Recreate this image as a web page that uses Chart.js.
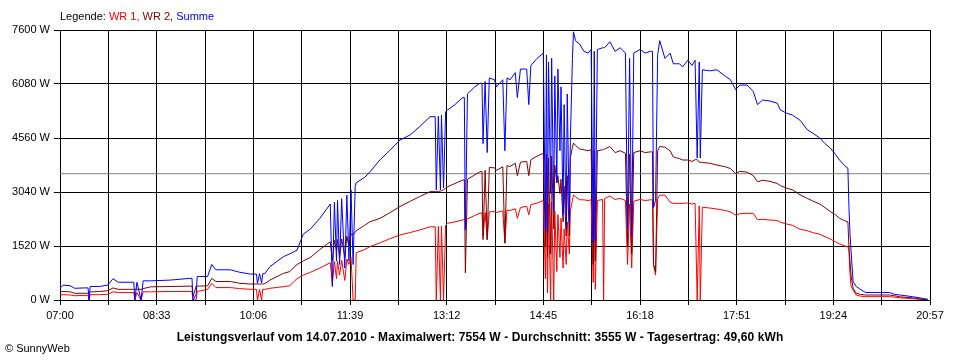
<!DOCTYPE html>
<html><head><meta charset="utf-8">
<script src="https://cdn.jsdelivr.net/npm/chart.js@4"></script>
<style>
html,body{margin:0;padding:0;background:#fff;}
#wrap{position:relative;width:960px;height:360px;overflow:hidden;}
canvas{position:absolute;left:0;top:0;}
.t{position:absolute;font-family:"Liberation Sans",Arial,sans-serif;font-size:11px;line-height:13px;white-space:nowrap;color:#000;}
#caption{left:0;width:960px;text-align:center;font-weight:bold;font-size:12px;top:330px;line-height:14px;letter-spacing:0.1px;}
</style></head><body>
<div id="wrap">
<canvas id="c" width="960" height="360"></canvas>
<div class="t" style="left:60px;top:10px">Legende: <span style="color:#ff0000">WR 1,</span> <span style="color:#800000">WR 2,</span> <span style="color:#0000ff">Summe</span></div>
<div class="t" id="caption">Leistungsverlauf vom 14.07.2010 - Maximalwert: 7554 W - Durchschnitt: 3555 W - Tagesertrag: 49,60 kWh</div>
<div class="t" style="left:5px;top:342px">© SunnyWeb</div>
</div>
<script>
const times = [
"07:00","07:03","07:10","07:14","07:24","07:27","07:28","07:29","07:32","07:38","07:46","07:51","07:56","08:07","08:11","08:12","08:14","08:18","08:20","08:27","08:46","09:05","09:07","09:08","09:11","09:12","09:14","09:22","09:26","09:30","09:44","09:53","10:03","10:09","10:10","10:12","10:14","10:15","10:17","10:22","10:35","10:41","10:48","10:54","11:01","11:10","11:20",
"11:22","11:24","11:26","11:27","11:29","11:31","11:34","11:36","11:38","11:40","11:42","11:44","11:45","11:53","11:58","12:08","12:17","12:27","12:37","12:46",
"12:56","13:01","13:02","13:04","13:06","13:07","13:09","13:11","13:13","13:20","13:27","13:29","13:30","13:32","13:39","13:44","13:46","13:47","13:49","13:51","13:53","13:58","14:00",
"14:06","14:08","14:10","14:13","14:18","14:20","14:23","14:29","14:31","14:33","14:39","14:45","14:47","14:48","14:49","14:50","14:52","14:53","14:55","14:56",
"14:58","14:59","15:01","15:02","15:04","15:05","15:07","15:08","15:10","15:11","15:13","15:14","15:16","15:20","15:24","15:28","15:31","15:33","15:34","15:35",
"15:37","15:42","15:43","15:44","15:49","15:54","15:59","16:04","16:06","16:08","16:10","16:12","16:18","16:23","16:28","16:30","16:31","16:33","16:35","16:37","16:42",
"16:47","16:50","16:53","16:56","16:59","17:04","17:08","17:11","17:13","17:15","17:16","17:18","17:25","17:32","17:40","17:45","17:50","17:54","18:01","18:07",
"18:11","18:16","18:23","18:30","18:33","18:39","18:45","18:52","18:59","19:04","19:11","19:16","19:21","19:26","19:30","19:35","19:38","19:39","19:40","19:41",
"19:43","19:46","19:50","19:55","20:18","20:23","20:28","20:40","20:55"];

const summe = [
330,420,400,330,340,340,0,380,380,380,420,600,500,500,500,0,500,0,540,540,560,610,610,0,150,660,660,660,1000,850,850,780,730,730,470,740,480,740,740,940,1220,1300,1400,1850,2000,2300,2700,
380,2750,1100,2800,1000,2850,900,2950,1100,3100,1000,3200,3300,3450,3600,3950,4200,4500,4650,4880,
5160,5160,3100,5170,3100,5200,3150,5300,5350,5500,5690,5700,1970,5800,6000,6100,6100,4400,6150,4150,6250,6200,6000,
6200,4200,6250,6200,6400,5700,6500,6500,5500,6600,6800,6950,2000,6900,1900,6700,3000,6800,2500,6300,
3300,6500,4200,6000,2400,5500,2000,5800,2200,4500,6800,7550,7300,7200,7000,6950,7050,1600,7000,1700,
7050,7100,7100,7100,7270,7000,7100,6950,2000,6800,1800,6950,7050,6950,7000,7000,2600,2800,6900,7300,6800,
6950,6650,6650,6650,6560,6750,6600,6750,4000,6700,4000,6480,6450,6480,6300,6200,5920,6050,6050,5870,
5500,5630,5600,5540,5350,5260,5200,5060,4790,4700,4560,4400,4280,4100,3940,3780,3710,2630,1880,1400,
520,380,300,210,210,160,140,95,20];

const wr2 = [
230,240,230,190,190,190,190,230,230,240,260,340,300,300,300,300,300,300,320,370,380,390,390,100,390,390,390,400,610,520,520,470,450,450,450,450,450,450,460,560,750,800,1000,1100,1200,1420,1640,
1100,1680,1400,1700,1200,1720,1200,1800,1500,1850,1850,1900,1950,2100,2200,2300,2450,2630,2780,2910,
3050,3050,3050,3060,3060,3080,3100,3150,3190,3280,3370,3380,760,3400,3520,3610,3620,1700,3650,1700,3730,3720,3650,
3750,1600,3780,3760,3850,3500,3880,3900,3500,3950,4050,4130,1500,4100,1200,4000,1300,4050,2000,3800,
3300,3500,3000,3400,2200,3200,1800,3500,1800,4000,4300,4420,4350,4250,4230,4200,4230,1000,4200,1100,
4200,4230,4230,4250,4320,4150,4200,4130,1500,4100,1300,4150,4200,4150,4170,4170,1000,800,4200,4320,4300,
4200,4030,4000,3980,3940,3940,3900,3950,3950,3880,3880,3870,3850,3800,3750,3700,3560,3620,3600,3500,
3330,3370,3340,3280,3220,3150,3100,2960,2860,2790,2700,2600,2490,2400,2300,2230,2200,1500,1100,700,
330,190,160,140,140,120,90,60,0];

const wr1 = [
140,150,140,120,130,130,0,150,150,150,160,230,210,210,210,0,210,0,230,230,240,240,240,0,0,250,250,300,470,350,350,320,300,300,0,300,0,300,300,330,375,400,600,700,780,900,1050,
450,1080,600,1100,700,1120,550,1150,1000,1200,0,0,1330,1420,1500,1610,1720,1830,1900,1970,
2060,2060,0,2070,0,2080,0,2100,2160,2200,2250,2260,2250,2280,2380,2440,2450,1800,2460,1700,2480,2490,2460,
2510,1600,2530,2520,2570,2300,2600,2640,2400,2680,2730,2800,600,2780,200,2700,0,2750,0,2500,
800,2400,1200,2300,900,2000,1000,2200,1300,2500,2800,2960,2900,2820,2820,2800,2820,500,2800,300,
2800,2830,0,2850,2930,2830,2860,2800,1000,2700,900,2780,2830,2800,2820,2820,1000,700,2850,2950,2950,
2750,2720,2720,2720,2720,2730,2700,2720,0,2650,0,2610,2590,2560,2520,2480,2390,2430,2440,2440,
2260,2270,2250,2240,2190,2140,2100,1990,1950,1900,1850,1780,1720,1640,1580,1520,1500,1400,750,400,
280,140,110,94,94,80,60,40,0];

const average = 3555;
const tickLabels = ["07:00","08:33","10:06","11:39","13:12","14:45","16:18","17:51","19:24","20:57"];
const yTicks = [0,1520,3040,4560,6080,7600];

if (times.length !== summe.length || times.length !== wr1.length || times.length !== wr2.length) {
  console.error('length mismatch', times.length, summe.length, wr2.length, wr1.length);
}

function toMin(t){ const p = t.split(':').map(Number); return (p[0]-7)*60 + p[1]; }
const xs = times.map(toMin);
const xMax = toMin(tickLabels[tickLabels.length-1]);
const half = (toMin(tickLabels[1]) - toMin(tickLabels[0])) / 2;
const gridVals = [];
for (let i = 0; i <= (tickLabels.length-1)*2; i++) gridVals.push(i*half);

const pts = arr => arr.map((v,i) => ({x: xs[i], y: v}));
const FONT = '"Liberation Sans", Arial, sans-serif';
Chart.defaults.font.family = FONT;
Chart.defaults.font.size = 11;
Chart.defaults.color = '#000';

new Chart(document.getElementById('c'), {
  type: 'line',
  data: { datasets: [
    {label:'Summe', data: pts(summe), borderColor:'#0000ff'},
    {label:'WR 2', data: pts(wr2), borderColor:'#800000'},
    {label:'WR 1', data: pts(wr1), borderColor:'#ff0000'},
    {label:'Durchschnitt', data:[{x:0,y:average},{x:xMax,y:average}], borderColor:'#808080'}
  ]},
  options: {
    responsive:false, animation:false, events:[],
    layout:{padding:{left:0,right:30,top:30,bottom:0}},
    plugins:{legend:{display:false}, tooltip:{enabled:false}, title:{display:false}},
    elements:{point:{radius:0}, line:{borderWidth:1, tension:0, fill:false}},
    scales:{
      x:{type:'linear', min:0, max:xMax,
        afterBuildTicks: ax => { ax.ticks = gridVals.map(v => ({value:v})); },
        afterFit: ax => { ax.height = 60; },
        grid:{color:'#000', lineWidth:1, tickLength:5, drawTicks:true},
        border:{color:'#000', width:1},
        ticks:{color:'#000', padding:4, maxRotation:0, minRotation:0, autoSkip:false,
          callback:(v,i) => (i % 2 === 0 ? tickLabels[i/2] : '')}
      },
      y:{type:'linear', min:0, max:yTicks[yTicks.length-1],
        afterBuildTicks: ax => { ax.ticks = yTicks.map(v => ({value:v})); },
        afterFit: ax => { ax.width = 60; },
        grid:{color:'#000', lineWidth:1, tickLength:6, drawTicks:true},
        border:{color:'#000', width:1},
        ticks:{color:'#000', padding:4, callback: v => v + ' W'}
      }
    }
  }
});
</script>
</body></html>
